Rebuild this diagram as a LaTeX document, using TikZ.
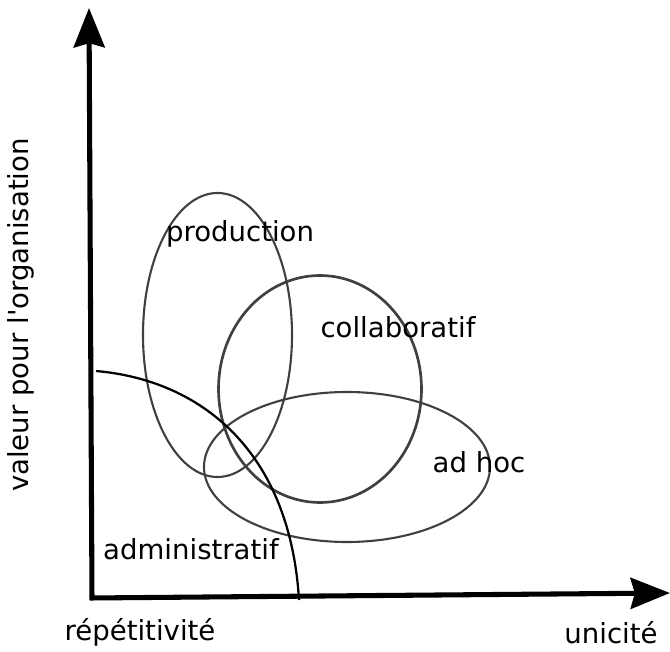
\documentclass[tikz,border=0pt]{standalone}
\usepackage{fontspec}
\setmainfont[Ligatures=TeXOff]{DejaVu Sans}
\usepackage{tikz}
\usetikzlibrary{arrows.meta,positioning}
\tikzset{
  axe/.style={line width=3.6pt,-{Stealth[length=28pt,width=22pt,inset=3pt]}},
  zone/.style={line width=1.5pt,draw=black!75},
  lbl/.style={font=\fontsize{19.6}{23}\selectfont,inner sep=0pt}
}

\begin{document}
\begin{tikzpicture}[x=0.025cm,y=0.025cm]
\useasboundingbox (0,0) rectangle (670,651);

\coordinate (o) at (92,51);
\coordinate (oh) at (90,53);
\coordinate (ytip) at (89,643);
\coordinate (xtip) at (670,58);

\draw[zone] (217.5,316) ellipse [x radius=74.5,y radius=142];
\draw[zone,line width=1.9pt] (320,262) ellipse [x radius=101.5,y radius=113.5];
\draw[zone] (347,184) ellipse [x radius=143,y radius=75];

\coordinate (c1) at (96,280);
\coordinate (c2) at (299,51);
\draw[line width=1.6pt] (c1) .. controls (200,271) and (290,201) .. (c2);

\draw[axe] (o) -- (ytip);
\draw[axe] (oh) -- (xtip);

\node[lbl] (p) at (240,417){production};
\node[lbl] (c) at (398,324){collaboratif};
\node[lbl] (a) at (479,189){ad hoc};
\node[lbl] (ad) at (191,102){administratif};
\node[lbl] (r) at (140,19){répétitivité};
\node[lbl] (u) at (611,18){unicité};
\node[lbl,rotate=90] (v) at (21,336){valeur pour l'organisation};

\end{tikzpicture}
\end{document}
